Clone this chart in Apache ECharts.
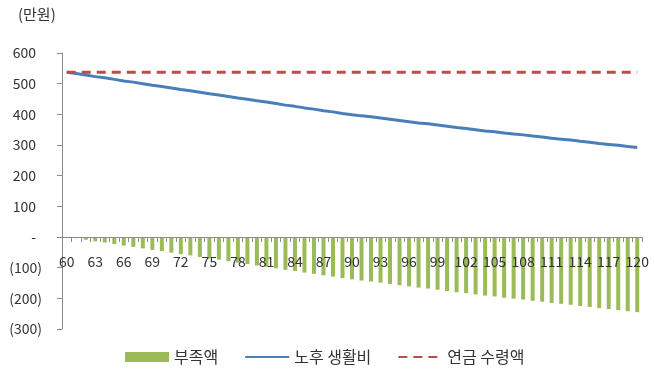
<!DOCTYPE html>
<html>
<head>
<meta charset="utf-8">
<script src="https://cdn.jsdelivr.net/npm/echarts@6/dist/echarts.min.js"></script>
<style>
  html, body { margin: 0; padding: 0; background: #fff; }
  #chart { width: 655px; height: 375px; }
</style>
</head>
<body>
<div id="chart"></div>
<script>
// Age (years)
const ages = [
  '60','61','62','63','64','65','66','67','68','69',
  '70','71','72','73','74','75','76','77','78','79',
  '80','81','82','83','84','85','86','87','88','89',
  '90','91','92','93','94','95','96','97','98','99',
  '100','101','102','103','104','105','106','107','108','109',
  '110','111','112','113','114','115','116','117','118','119',
  '120'
];

// 노후 생활비 (만원)
const livingCost = [
  537,533,528,523,519,514,509,505,500,495,
  491,486,481,477,472,467,463,458,453,449,
  444,440,435,430,426,421,417,412,408,403,
  399,395,392,388,384,380,376,372,369,365,
  361,357,354,350,346,343,339,336,333,329,
  326,322,319,316,312,309,305,302,299,295,
  292
];

// 연금 수령액 (만원)
const pension = [
  537,537,537,537,537,537,537,537,537,537,
  537,537,537,537,537,537,537,537,537,537,
  537,537,537,537,537,537,537,537,537,537,
  537,537,537,537,537,537,537,537,537,537,
  537,537,537,537,537,537,537,537,537,537,
  537,537,537,537,537,537,537,537,537,537,
  537
];

// 부족액 (만원)
const shortfall = [
  0,-4,-9,-14,-18,-23,-28,-32,-37,-42,
  -46,-51,-56,-60,-65,-70,-74,-79,-84,-88,
  -93,-97,-102,-107,-111,-116,-120,-125,-129,-134,
  -138,-142,-145,-149,-153,-157,-161,-165,-168,-172,
  -176,-180,-183,-187,-191,-194,-198,-201,-204,-208,
  -211,-215,-218,-221,-225,-228,-232,-235,-238,-242,
  -245
];

const FONT = '"Noto Sans CJK KR", "Noto Sans", sans-serif';
const TEXT = '#333333';
const AXIS = '#8c8c8c';

// y range and plot box; the category axis is shifted up to sit on the zero line
const Y_MIN = -300, Y_MAX = 600;
const GRID_TOP = 53, GRID_H = 276;
const zeroOffset = -GRID_H * (0 - Y_MIN) / (Y_MAX - Y_MIN);

const chart = echarts.init(document.getElementById('chart'), null, { renderer: 'canvas' });

chart.setOption({
  animation: false,
  backgroundColor: '#ffffff',
  textStyle: { fontFamily: FONT, color: TEXT },
  title: {
    text: '(만원)',
    left: 13,
    top: 2,
    textStyle: { fontFamily: FONT, fontSize: 15, fontWeight: 'normal', color: TEXT }
  },
  legend: {
    left: 125,
    top: 349,
    padding: 0,
    itemWidth: 44,
    itemHeight: 10,
    itemGap: 26,
    textStyle: { fontFamily: FONT, fontSize: 16, color: TEXT },
    data: [
      { name: '부족액', icon: 'rect' },
      { name: '노후 생활비', itemStyle: { opacity: 0 } },
      { name: '연금 수령액', itemStyle: { opacity: 0 } }
    ]
  },
  grid: { left: 62, top: GRID_TOP, width: 580, height: GRID_H, containLabel: false },
  xAxis: {
    type: 'category',
    data: ages,
    boundaryGap: true,
    position: 'bottom',
    offset: zeroOffset,
    z: 5,
    axisLine: { onZero: false, lineStyle: { color: AXIS, width: 1 } },
    axisTick: { show: true, interval: 0, length: 5, lineStyle: { color: AXIS } },
    axisLabel: {
      interval: 2,
      margin: 18,
      fontFamily: FONT,
      fontSize: 14,
      color: TEXT
    },
    splitLine: { show: false }
  },
  yAxis: {
    type: 'value',
    min: Y_MIN,
    max: Y_MAX,
    interval: 100,
    axisLine: { show: true, lineStyle: { color: AXIS, width: 1 } },
    axisTick: { show: true, inside: false, length: 5, lineStyle: { color: AXIS } },
    splitLine: { show: false },
    axisLabel: {
      margin: 20,
      fontFamily: FONT,
      fontSize: 14,
      color: TEXT,
      formatter: function (v) {
        if (v > 0) return '{n|' + v + '}';
        if (v === 0) return '{n|-}';
        return '(' + (-v) + ')';
      },
      rich: {
        n: { fontFamily: FONT, fontSize: 14, color: TEXT, padding: [0, 6, 0, 0] }
      }
    }
  },
  series: [
    {
      name: '부족액',
      type: 'bar',
      data: shortfall,
      barWidth: 4,
      itemStyle: { color: '#9bbb59' },
      z: 2
    },
    {
      name: '노후 생활비',
      type: 'line',
      data: livingCost,
      symbol: 'none',
      lineStyle: { color: '#4a7ebb', width: 3 },
      itemStyle: { color: '#4a7ebb' },
      z: 3
    },
    {
      name: '연금 수령액',
      type: 'line',
      data: pension,
      symbol: 'none',
      lineStyle: { color: '#be4b48', width: 3, type: [9, 6] },
      itemStyle: { color: '#be4b48' },
      z: 4
    }
  ]
});
</script>
</body>
</html>
